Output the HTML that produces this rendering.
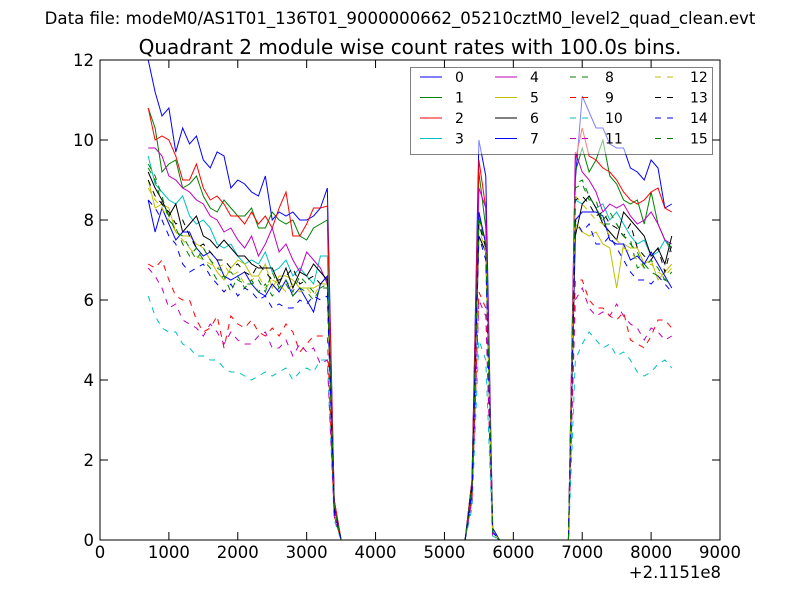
<!DOCTYPE html>
<html><head><meta charset="utf-8"><style>
body{margin:0;background:#fff;}
svg text{font-family:"DejaVu Sans","Liberation Sans",sans-serif;}
</style></head><body>
<svg id="chart" width="800" height="600" xmlns="http://www.w3.org/2000/svg">
<rect width="800" height="600" fill="#fff"/>
<text x="400" y="24" font-size="16.6" text-anchor="middle">Data file: modeM0/AS1T01_136T01_9000000662_05210cztM0_level2_quad_clean.evt</text>
<text x="410" y="54" font-size="20" text-anchor="middle">Quadrant 2 module wise count rates with 100.0s bins.</text>
<g id="series"></g>
<g id="axes"></g>
<g id="legend"></g>
</svg>
<script>
const times=[700,800,900,1000,1100,1200,1300,1400,1500,1600,1700,1800,1900,2000,2100,2200,2300,2400,2500,2600,2700,2800,2900,3000,3100,3200,3300,3400,3500,5300,5400,5500,5600,5700,5800,6800,6900,7000,7100,7200,7300,7400,7500,7600,7700,7800,7900,8000,8100,8200,8300];
const s0=[12,11.2,10.6,10.8,9.7,10.3,9.9,10.1,9.5,9.3,9.7,9.6,8.8,9.0,8.9,8.7,8.6,9.1,8.0,8.2,8.1,8.2,8.0,8.0,8.1,8.3,8.8,1.0,0,0,1.5,10.0,9.1,0.3,0,0,9.0,11.1,10.7,10.3,10.3,9.9,9.8,9.8,9.3,9.2,9.0,9.5,9.3,8.3,8.4];
const s1=[10.8,10.3,9.2,9.4,9.5,8.8,8.9,9.1,8.6,8.3,8.2,8.5,8.3,8.1,8.1,8.3,7.8,7.8,8.2,8.0,7.9,8.0,7.6,7.5,7.8,7.9,8.0,0.9,0,0,1.3,9.2,7.8,0.2,0,0,9.2,9.8,9.2,9.5,10.0,9.1,8.9,8.5,8.4,8.5,7.9,8.7,7.9,7.5,7.3];
const s2=[10.8,10.0,10.1,10.0,9.6,9.0,9.0,9.4,8.8,8.5,8.6,8.4,8.1,8.1,7.9,8.2,7.9,8.1,7.8,8.3,8.7,7.6,7.6,7.9,8.3,8.3,8.35,1.0,0,0,1.5,9.5,8.3,0.2,0,0,9.5,10.3,9.6,9.5,9.3,9.2,9.0,8.7,8.5,8.4,8.5,8.7,8.8,8.3,8.2];
const s3=[9.6,8.9,8.7,8.5,8.4,8.6,8.1,7.9,8.0,7.8,7.4,7.3,7.4,7.1,6.9,7.0,6.9,7.2,6.7,6.8,7.0,6.6,6.8,6.6,6.4,7.1,7.1,0.8,0,0,1.2,8.2,7.4,0.2,0,0,8.5,8.4,8.6,8.3,8.4,8.0,8.2,7.9,7.6,7.4,7.5,7.1,7.2,7.5,7.2];
const s4=[9.8,9.8,9.6,9.1,9.0,8.8,8.7,8.5,8.4,8.1,8.0,7.7,7.8,7.5,7.3,7.6,7.1,7.4,7.8,7.2,7.4,7.0,6.7,7.2,7.0,6.8,6.4,0.8,0,0,1.2,8.8,8.3,0.2,0,0,9.7,9.2,9.0,8.7,8.2,8.4,8.3,8.4,8.1,7.9,8.0,8.2,7.9,7.5,7.4];
const s5=[9.0,8.3,8.4,8.3,7.7,7.6,7.6,7.4,7.3,7.0,6.7,6.5,6.8,7.0,6.9,6.6,6.6,6.9,6.3,6.6,6.6,6.5,6.3,6.3,6.3,6.4,6.6,0.8,0,0,1.4,8.0,7.5,0.2,0,0,7.9,7.7,7.6,7.7,7.4,7.3,6.3,7.4,7.3,7.3,6.9,7.0,6.5,6.7,6.9];
const s6=[9.2,8.8,8.5,8.1,8.4,7.7,7.9,8.1,7.6,7.5,7.3,7.5,7.3,7.1,7.1,6.9,6.8,6.8,6.8,6.4,6.8,6.3,6.7,6.6,6.9,6.7,6.5,0.8,0,0,1.4,7.6,7.2,0.2,0,0,7.6,8.4,8.6,8.3,7.9,7.7,7.5,8.2,8.0,7.8,7.6,7.1,7.3,6.9,7.6];
const s7=[8.5,7.7,8.3,7.9,7.5,7.7,7.7,7.3,7.1,7.2,7.0,6.6,6.5,6.6,6.7,6.4,6.2,6.1,6.4,6.2,6.5,6.1,6.3,6.0,5.7,6.4,6.6,0.8,0,0,1.3,8.2,7.4,0.2,0,0,8.0,8.2,8.2,8.2,8.1,7.5,7.4,7.4,7.0,7.1,6.9,7.2,6.9,6.6,6.3];
const s8=[9.3,9.0,8.4,8.1,7.7,7.6,7.3,7.0,7.3,7.0,6.8,6.7,6.7,6.5,6.4,6.4,6.5,6.2,6.7,6.3,6.4,6.1,6.3,6.2,6.0,6.3,6.3,0.8,0,0,1.3,8.1,7.3,0.2,0,0,8.8,8.9,8.5,8.5,7.9,7.9,7.9,7.6,7.5,6.8,6.9,6.7,6.6,6.5,6.4];
const s9=[6.9,6.8,7.0,6.5,6.1,6.0,6.0,5.5,5.2,5.3,5.6,4.8,5.6,5.4,5.3,5.5,5.2,5.1,5.3,5.1,5.4,5.2,4.7,4.9,5.1,5.1,5.1,0.6,0,0,1.0,6.2,5.8,0.1,0,0,6.5,6.5,6.0,5.8,5.8,5.6,5.5,5.7,5.0,4.9,4.8,5.1,5.5,5.5,5.3];
const s10=[6.1,5.6,5.3,5.2,5.2,4.9,4.8,4.6,4.6,4.5,4.5,4.3,4.2,4.2,4.1,4.0,4.1,4.2,4.1,4.2,4.3,4.0,4.2,4.3,4.2,4.5,4.5,0.5,0,0,0.8,5.0,4.5,0.1,0,0,4.5,4.9,5.2,5.0,4.8,4.9,4.6,4.7,4.5,4.2,4.1,4.2,4.4,4.5,4.3];
const s11=[6.8,6.6,6.3,5.8,5.9,5.5,5.4,5.3,5.1,5.4,5.2,4.9,5.2,5.0,4.9,4.9,5.1,5.2,4.8,4.8,5.0,4.6,4.9,4.7,4.8,4.4,4.5,0.6,0,0,1.0,6.0,5.6,0.1,0,0,6.0,6.3,5.8,5.6,5.7,5.6,5.9,5.6,5.4,5.3,5.0,5.3,5.2,5.0,5.1];
const s12=[8.8,8.5,8.3,8.0,7.7,7.5,7.3,7.1,7.0,6.9,6.8,6.9,6.6,6.7,6.4,6.5,6.6,6.3,6.5,6.4,6.2,6.4,6.2,6.3,6.1,6.4,6.4,0.8,0,0,1.3,7.8,7.2,0.2,0,0,8.6,8.4,8.2,8.0,7.9,7.6,7.5,7.3,7.2,7.0,6.8,6.9,6.7,6.6,6.8];
const s13=[9.0,8.6,8.4,8.2,7.9,8.0,7.6,7.3,7.4,7.2,7.0,7.0,6.8,6.9,6.7,6.6,6.9,6.7,6.5,6.5,6.6,6.8,6.4,6.5,6.6,6.4,6.5,0.8,0,0,1.3,7.9,7.3,0.2,0,0,8.5,8.6,8.4,8.1,8.2,7.9,7.8,7.6,7.9,7.3,7.1,7.0,7.3,6.7,7.4];
const s14=[8.5,8.3,8.0,7.6,7.4,6.9,6.7,6.8,6.9,6.6,6.4,6.2,6.4,6.1,6.3,6.2,6.0,6.1,5.8,5.9,5.8,5.8,6.0,5.9,6.1,6.0,6.1,0.7,0,0,1.2,7.6,7.0,0.2,0,0,8.0,7.7,7.9,7.4,7.4,7.6,7.3,7.0,6.7,6.5,6.5,6.4,6.6,6.4,6.2];
const s15=[9.4,9.1,8.6,8.0,7.8,7.4,7.1,7.3,7.0,6.8,6.5,6.6,6.2,6.6,6.3,6.5,6.2,6.4,6.1,6.3,6.5,6.2,6.6,6.4,6.2,6.3,6.4,0.8,0,0,1.3,8.0,7.4,0.2,0,0,8.9,9.0,8.6,8.3,8.0,8.2,7.9,7.6,7.4,7.2,6.8,7.0,6.8,6.5,6.7];
const seriesNames=['0','1','2','3','4','5','6','7','8','9','10','11','12','13','14','15'];
const xTicks=[0,1000,2000,3000,4000,5000,6000,7000,8000,9000];
const yTicks=[0,2,4,6,8,10,12];

const allSeries=[s0,s1,s2,s3,s4,s5,s6,s7,s8,s9,s10,s11,s12,s13,s14,s15];
const colors=['#0000ff','#008000','#ff0000','#00bfbf','#bf00bf','#bfbf00','#000000'];
const L=100,R=720,T=60,B=540;
const xs=v=>L+(v-0)/9000*(R-L);
const ys=v=>B-(v-0)/12*(B-T);
const NS='http://www.w3.org/2000/svg';
function mk(tag,attrs,parent){const e=document.createElementNS(NS,tag);for(const k in attrs)e.setAttribute(k,attrs[k]);parent.appendChild(e);return e;}
const sg=document.getElementById('series');
allSeries.forEach((s,i)=>{
  const d=s.map((v,j)=>(j?'L':'M')+xs(times[j]).toFixed(2)+' '+ys(v).toFixed(2)).join(' ');
  const p=mk('path',{d:d,fill:'none',stroke:colors[i%7],'stroke-width':1,'stroke-dasharray':i>=8?'6,6':'none'},sg);
  
  
});
const ax=document.getElementById('axes');
const frame=mk('rect',{x:L,y:T,width:R-L,height:B-T,fill:'none',stroke:'#000','stroke-width':1},ax);


xTicks.forEach(t=>{
  const x=xs(t);
  mk('line',{x1:x,x2:x,y1:B,y2:B-8,stroke:'#000'},ax);
  mk('line',{x1:x,x2:x,y1:T,y2:T+8,stroke:'#000'},ax);
  const tx=mk('text',{x:x,y:B+18,'font-size':16.5,'text-anchor':'middle'},ax);
  tx.textContent=t;
  
  
});
yTicks.forEach(t=>{
  const y=ys(t);
  mk('line',{x1:L,x2:L+8,y1:y,y2:y,stroke:'#000'},ax);
  mk('line',{x1:R,x2:R-8,y1:y,y2:y,stroke:'#000'},ax);
  const tx=mk('text',{x:L-6,y:y+6,'font-size':16.5,'text-anchor':'end'},ax);
  tx.textContent=t;
  
  
});
const off=mk('text',{x:721,y:578,'font-size':16.5,'text-anchor':'end'},ax);
off.textContent='+2.1151e8';


const lg=document.getElementById('legend');
const box=mk('rect',{x:410.5,y:67.5,width:302,height:87,fill:'#fff','fill-opacity':0.5,stroke:'#000','stroke-opacity':0.5},lg);


const colX=[420,495,570,655];
seriesNames.forEach((n,i)=>{
  const c=Math.floor(i/4),r=i%4;
  const x=colX[c],y=77+r*20.5;
  const ln=mk('line',{x1:x,x2:x+22,y1:y,y2:y,stroke:colors[i%7],'stroke-width':1,'stroke-dasharray':i>=8?'6,6':'none'},lg);
  
  
  const tx=mk('text',{x:x+35,y:y+5,'font-size':14},lg);
  tx.textContent=n;
  
  
});
</script>
</body></html>
